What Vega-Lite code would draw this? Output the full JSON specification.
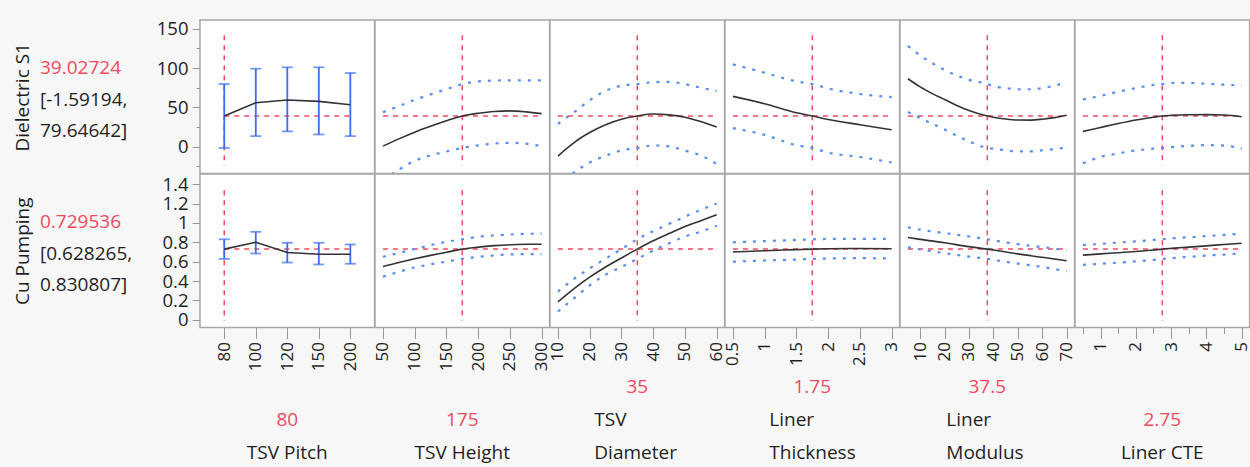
{
"$schema": "https://vega.github.io/schema/vega-lite/v6.json",
"background": "#f7f7f7",
"padding": {"left": 13, "top": 18, "right": 0, "bottom": 0},
"columns": 7,
"spacing": 0,
"bounds": "flush",
"align": "each",
"resolve": {"scale": {"x": "independent", "y": "independent"}, "axis": {"x": "independent", "y": "independent"}},
"config": {
  "font": "Open Sans",
  "view": {"stroke": "#a8a8a8", "strokeWidth": 1.5, "fill": "#ffffff"},
  "axis": {"domain": false, "grid": false, "tickColor": "#9a9a9a", "labelColor": "#1f1f1f", "labelFont": "Open Sans", "titleFont": "Open Sans", "labelOverlap": false, "labelFlush": false},
  "text": {"font": "Open Sans", "fontSize": 19, "baseline": "middle"}
},
"datasets": {
  "r1p1": [
    {"x":"80","pred":39.03,"lo":-1.59,"hi":79.65},
    {"x":"100","pred":55.9,"lo":13.5,"hi":99.1},
    {"x":"120","pred":59.3,"lo":19.5,"hi":100.9},
    {"x":"150","pred":57.6,"lo":15.6,"hi":100.9},
    {"x":"200","pred":53.3,"lo":13.5,"hi":93.6}],
  "r2p1": [
    {"x":"80","pred":0.7295,"lo":0.6283,"hi":0.8308},
    {"x":"100","pred":0.80,"lo":0.684,"hi":0.908},
    {"x":"120","pred":0.695,"lo":0.591,"hi":0.795},
    {"x":"150","pred":0.677,"lo":0.571,"hi":0.795},
    {"x":"200","pred":0.677,"lo":0.578,"hi":0.777}],
  "r1p2": [
    {"x":50,"pred":0.8,"hi":43.9,"lo":-42},
    {"x":75,"pred":10,"hi":51.5,"lo":-29},
    {"x":100,"pred":18.5,"hi":59.5,"lo":-18},
    {"x":125,"pred":26,"hi":66.5,"lo":-11},
    {"x":150,"pred":33,"hi":73,"lo":-6},
    {"x":175,"pred":39.03,"hi":79.65,"lo":-1.59},
    {"x":200,"pred":42.5,"hi":83,"lo":1.8},
    {"x":225,"pred":44.8,"hi":84,"lo":4},
    {"x":250,"pred":45.5,"hi":84.4,"lo":5},
    {"x":275,"pred":44.3,"hi":84.4,"lo":4},
    {"x":300,"pred":42,"hi":84.4,"lo":0.5}],
  "r1p3": [
    {"x":10,"pred":-12,"hi":29,"lo":-52},
    {"x":12.5,"pred":-3,"hi":36.5,"lo":-42},
    {"x":15,"pred":5,"hi":43.5,"lo":-33},
    {"x":17.5,"pred":12,"hi":51.5,"lo":-26},
    {"x":20,"pred":18,"hi":59,"lo":-20},
    {"x":25,"pred":28,"hi":71,"lo":-11.5},
    {"x":30,"pred":35,"hi":77.5,"lo":-4.5},
    {"x":35,"pred":39.03,"hi":79.65,"lo":-1.59},
    {"x":40,"pred":41.5,"hi":82,"lo":1.6},
    {"x":45,"pred":40.5,"hi":82.5,"lo":0.5},
    {"x":50,"pred":37.5,"hi":79.5,"lo":-5},
    {"x":55,"pred":32,"hi":75,"lo":-11},
    {"x":60,"pred":25,"hi":71,"lo":-22}],
  "r1p4": [
    {"x":0.5,"pred":64,"hi":104.7,"lo":23.7},
    {"x":1,"pred":54.6,"hi":94,"lo":15},
    {"x":1.5,"pred":43.1,"hi":83,"lo":2},
    {"x":1.75,"pred":39.03,"hi":79.65,"lo":-1.59},
    {"x":2,"pred":34.7,"hi":74,"lo":-7.5},
    {"x":2.5,"pred":27.9,"hi":67,"lo":-13},
    {"x":3,"pred":21.5,"hi":63,"lo":-20}],
  "r1p5": [
    {"x":5,"pred":86.4,"hi":128,"lo":44},
    {"x":10,"pred":76,"hi":116,"lo":36.5},
    {"x":15,"pred":67.5,"hi":106,"lo":29},
    {"x":20,"pred":60,"hi":97.5,"lo":22},
    {"x":25,"pred":52.5,"hi":90.5,"lo":14},
    {"x":30,"pred":46,"hi":85,"lo":7},
    {"x":37.5,"pred":39.03,"hi":79.65,"lo":-1.59},
    {"x":40,"pred":37.5,"hi":77,"lo":-2.5},
    {"x":45,"pred":35.3,"hi":74.5,"lo":-4.5},
    {"x":50,"pred":34,"hi":73,"lo":-6},
    {"x":55,"pred":33.8,"hi":73,"lo":-6},
    {"x":60,"pred":35,"hi":74.5,"lo":-4.5},
    {"x":65,"pred":37,"hi":77.5,"lo":-3},
    {"x":70,"pred":40,"hi":82,"lo":-1}],
  "r1p6": [
    {"x":0.5,"pred":19.5,"hi":60,"lo":-21},
    {"x":1,"pred":24.5,"hi":64.5,"lo":-13},
    {"x":1.5,"pred":29.5,"hi":70,"lo":-8.5},
    {"x":2,"pred":34,"hi":74.5,"lo":-4.7},
    {"x":2.5,"pred":37.5,"hi":78.5,"lo":-2.5},
    {"x":2.75,"pred":39.03,"hi":79.65,"lo":-1.59},
    {"x":3,"pred":39.8,"hi":81,"lo":-0.5},
    {"x":3.5,"pred":40.6,"hi":81,"lo":1},
    {"x":4,"pred":40.8,"hi":80,"lo":2},
    {"x":4.5,"pred":40.3,"hi":78.8,"lo":1.5},
    {"x":5,"pred":38,"hi":78,"lo":-2.7}],
  "r2p2": [
    {"x":50,"pred":0.55,"hi":0.65,"lo":0.445},
    {"x":75,"pred":0.592,"hi":0.69,"lo":0.495},
    {"x":100,"pred":0.63,"hi":0.73,"lo":0.54},
    {"x":125,"pred":0.665,"hi":0.77,"lo":0.572},
    {"x":150,"pred":0.697,"hi":0.805,"lo":0.6},
    {"x":175,"pred":0.7295,"hi":0.8308,"lo":0.6283},
    {"x":200,"pred":0.75,"hi":0.857,"lo":0.65},
    {"x":225,"pred":0.765,"hi":0.87,"lo":0.664},
    {"x":250,"pred":0.775,"hi":0.88,"lo":0.675},
    {"x":275,"pred":0.779,"hi":0.887,"lo":0.677},
    {"x":300,"pred":0.78,"hi":0.89,"lo":0.677}],
  "r2p3": [
    {"x":10,"pred":0.185,"hi":0.29,"lo":0.085},
    {"x":15,"pred":0.32,"hi":0.42,"lo":0.22},
    {"x":20,"pred":0.44,"hi":0.53,"lo":0.355},
    {"x":25,"pred":0.545,"hi":0.63,"lo":0.465},
    {"x":30,"pred":0.638,"hi":0.73,"lo":0.545},
    {"x":35,"pred":0.7295,"hi":0.8308,"lo":0.6283},
    {"x":40,"pred":0.815,"hi":0.915,"lo":0.715},
    {"x":45,"pred":0.89,"hi":0.99,"lo":0.79},
    {"x":50,"pred":0.962,"hi":1.065,"lo":0.86},
    {"x":55,"pred":1.022,"hi":1.135,"lo":0.91},
    {"x":60,"pred":1.085,"hi":1.2,"lo":0.97}],
  "r2p4": [
    {"x":0.5,"pred":0.70,"hi":0.80,"lo":0.60},
    {"x":1,"pred":0.713,"hi":0.812,"lo":0.612},
    {"x":1.5,"pred":0.724,"hi":0.824,"lo":0.622},
    {"x":1.75,"pred":0.7295,"hi":0.8308,"lo":0.6283},
    {"x":2,"pred":0.733,"hi":0.834,"lo":0.632},
    {"x":2.5,"pred":0.736,"hi":0.836,"lo":0.636},
    {"x":3,"pred":0.733,"hi":0.834,"lo":0.632}],
  "r2p5": [
    {"x":5,"pred":0.85,"hi":0.955,"lo":0.748},
    {"x":10,"pred":0.83,"hi":0.93,"lo":0.727},
    {"x":20,"pred":0.795,"hi":0.895,"lo":0.688},
    {"x":30,"pred":0.755,"hi":0.86,"lo":0.652},
    {"x":37.5,"pred":0.7295,"hi":0.8308,"lo":0.6283},
    {"x":40,"pred":0.72,"hi":0.82,"lo":0.618},
    {"x":50,"pred":0.68,"hi":0.78,"lo":0.58},
    {"x":60,"pred":0.645,"hi":0.75,"lo":0.545},
    {"x":70,"pred":0.61,"hi":0.718,"lo":0.50}],
  "r2p6": [
    {"x":0.5,"pred":0.667,"hi":0.77,"lo":0.567},
    {"x":1,"pred":0.68,"hi":0.783,"lo":0.578},
    {"x":1.5,"pred":0.692,"hi":0.797,"lo":0.59},
    {"x":2,"pred":0.705,"hi":0.81,"lo":0.603},
    {"x":2.5,"pred":0.72,"hi":0.824,"lo":0.618},
    {"x":2.75,"pred":0.7295,"hi":0.8308,"lo":0.6283},
    {"x":3,"pred":0.737,"hi":0.84,"lo":0.636},
    {"x":3.5,"pred":0.75,"hi":0.852,"lo":0.65},
    {"x":4,"pred":0.763,"hi":0.864,"lo":0.662},
    {"x":4.5,"pred":0.777,"hi":0.876,"lo":0.673},
    {"x":5,"pred":0.79,"hi":0.89,"lo":0.686}]
},
"concat": [
  {
    "width": 160, "height": 153.5, "view": {"stroke": null, "fill": null},
    "data": {"values": [{"c":0,"line":0,"t":"39.02724","role":"value"},{"c":0,"line":1,"t":"[-1.59194,","role":"ci"},{"c":0,"line":2,"t":"79.64642]","role":"ci"}]},
    "encoding": {
      "x": {"field":"c","type":"quantitative","scale":{"domain":[0,1]},"axis":null},
      "y": {"field":"line","type":"quantitative","scale":{"domain":[-1.524,3.349],"reverse":true,"nice":false,"zero":false},"axis":{"title":"Dielectric S1","labels":false,"ticks":false,"domain":false,"grid":false,"titleFontSize":19,"titleFontWeight":"normal","titleColor":"#1f1f1f","titlePadding":8}},
      "text": {"field":"t"}
    },
    "layer": [
      {"transform":[{"filter":"datum.role === 'value'"}],"mark":{"type":"text","align":"left","color":"#f2495c","fontSize":19}},
      {"transform":[{"filter":"datum.role === 'ci'"}],"mark":{"type":"text","align":"left","color":"#1f1f1f","fontSize":19}}
    ]
  },
  {
    "width": 174.6, "height": 153.5, "data": {"name": "r1p1"},
    "encoding": {
      "x": {"field":"x","type":"ordinal","scale":{"type":"point","domain":["80","100","120","150","200"],"padding":0.77},"axis":null},
      "y": {"field":"v","type":"quantitative","scale":{"domain":[-34,161],"nice":false,"zero":false},"axis":{"title":null,"values":[-25,0,25,50,75,100,125,150],"labelExpr":"datum.value % 50 === 0 && datum.value >= 0 ? datum.label : ''","tickSize":{"condition":{"test":"datum.value % 50 === 0","value":8},"value":4},"labelFontSize":18.5,"labelPadding":4}}
    },
    "layer": [
      {"data":{"values":[{"x":"80","v":141.6,"v2":-23.8}]},"mark":{"type":"rule","color":"#f2495c","strokeDash":[5,5],"strokeWidth":1.5},"encoding":{"y2":{"field":"v2"}}},
      {"data":{"values":[{"x":"80","x2":"200","v":39.03}]},"mark":{"type":"rule","color":"#f2495c","strokeDash":[5,5],"strokeWidth":1.5},"encoding":{"x2":{"field":"x2"}}},
      {"transform":[{"fold":["lo"],"as":["k","v"]}],"mark":{"type":"rule","color":"#3b6cf0","strokeWidth":1.8},"encoding":{"y2":{"field":"hi"}}},
      {"transform":[{"fold":["lo","hi"],"as":["k","v"]}],"mark":{"type":"tick","color":"#3b6cf0","size":11,"thickness":1.8}},
      {"transform":[{"fold":["pred"],"as":["k","v"]}],"mark":{"type":"line","color":"#333333","strokeWidth":1.6,"clip":true}}
    ]
  },
  {
    "width": 174.6, "height": 153.5, "data": {"name": "r1p2"},
    "encoding": {
      "x": {"field":"x","type":"quantitative","scale":{"domain":[37.5,312.5],"nice":false,"zero":false},"axis":null},
      "y": {"field":"v","type":"quantitative","scale":{"domain":[-34,161],"nice":false,"zero":false},"axis":null}
    },
    "layer": [
      {"data":{"values":[{"x":175,"v":141.6,"v2":-23.8}]},"mark":{"type":"rule","color":"#f2495c","strokeDash":[5,5],"strokeWidth":1.5},"encoding":{"y2":{"field":"v2"}}},
      {"data":{"values":[{"x":50,"x2":300,"v":39.03}]},"mark":{"type":"rule","color":"#f2495c","strokeDash":[5,5],"strokeWidth":1.5},"encoding":{"x2":{"field":"x2"}}},
      {"transform":[{"fold":["hi","lo"],"as":["k","v"]}],"mark":{"type":"line","color":"#5b8def","strokeDash":[3,7],"strokeWidth":2.2,"clip":true,"interpolate":"monotone"},"encoding":{"detail":{"field":"k","type":"nominal"}}},
      {"transform":[{"fold":["pred"],"as":["k","v"]}],"mark":{"type":"line","color":"#333333","strokeWidth":1.6,"clip":true,"interpolate":"monotone"}}
    ]
  },
  {
    "width": 174.6, "height": 153.5, "data": {"name": "r1p3"},
    "encoding": {
      "x": {"field":"x","type":"quantitative","scale":{"domain":[7.5,62.5],"nice":false,"zero":false},"axis":null},
      "y": {"field":"v","type":"quantitative","scale":{"domain":[-34,161],"nice":false,"zero":false},"axis":null}
    },
    "layer": [
      {"data":{"values":[{"x":35,"v":141.6,"v2":-23.8}]},"mark":{"type":"rule","color":"#f2495c","strokeDash":[5,5],"strokeWidth":1.5},"encoding":{"y2":{"field":"v2"}}},
      {"data":{"values":[{"x":10,"x2":60,"v":39.03}]},"mark":{"type":"rule","color":"#f2495c","strokeDash":[5,5],"strokeWidth":1.5},"encoding":{"x2":{"field":"x2"}}},
      {"transform":[{"fold":["hi","lo"],"as":["k","v"]}],"mark":{"type":"line","color":"#5b8def","strokeDash":[3,7],"strokeWidth":2.2,"clip":true,"interpolate":"monotone"},"encoding":{"detail":{"field":"k","type":"nominal"}}},
      {"transform":[{"fold":["pred"],"as":["k","v"]}],"mark":{"type":"line","color":"#333333","strokeWidth":1.6,"clip":true,"interpolate":"monotone"}}
    ]
  },
  {
    "width": 174.6, "height": 153.5, "data": {"name": "r1p4"},
    "encoding": {
      "x": {"field":"x","type":"quantitative","scale":{"domain":[0.375,3.125],"nice":false,"zero":false},"axis":null},
      "y": {"field":"v","type":"quantitative","scale":{"domain":[-34,161],"nice":false,"zero":false},"axis":null}
    },
    "layer": [
      {"data":{"values":[{"x":1.75,"v":141.6,"v2":-23.8}]},"mark":{"type":"rule","color":"#f2495c","strokeDash":[5,5],"strokeWidth":1.5},"encoding":{"y2":{"field":"v2"}}},
      {"data":{"values":[{"x":0.5,"x2":3,"v":39.03}]},"mark":{"type":"rule","color":"#f2495c","strokeDash":[5,5],"strokeWidth":1.5},"encoding":{"x2":{"field":"x2"}}},
      {"transform":[{"fold":["hi","lo"],"as":["k","v"]}],"mark":{"type":"line","color":"#5b8def","strokeDash":[3,7],"strokeWidth":2.2,"clip":true,"interpolate":"monotone"},"encoding":{"detail":{"field":"k","type":"nominal"}}},
      {"transform":[{"fold":["pred"],"as":["k","v"]}],"mark":{"type":"line","color":"#333333","strokeWidth":1.6,"clip":true,"interpolate":"monotone"}}
    ]
  },
  {
    "width": 174.6, "height": 153.5, "data": {"name": "r1p5"},
    "encoding": {
      "x": {"field":"x","type":"quantitative","scale":{"domain":[1.75,73.25],"nice":false,"zero":false},"axis":null},
      "y": {"field":"v","type":"quantitative","scale":{"domain":[-34,161],"nice":false,"zero":false},"axis":null}
    },
    "layer": [
      {"data":{"values":[{"x":37.5,"v":141.6,"v2":-23.8}]},"mark":{"type":"rule","color":"#f2495c","strokeDash":[5,5],"strokeWidth":1.5},"encoding":{"y2":{"field":"v2"}}},
      {"data":{"values":[{"x":5,"x2":70,"v":39.03}]},"mark":{"type":"rule","color":"#f2495c","strokeDash":[5,5],"strokeWidth":1.5},"encoding":{"x2":{"field":"x2"}}},
      {"transform":[{"fold":["hi","lo"],"as":["k","v"]}],"mark":{"type":"line","color":"#5b8def","strokeDash":[3,7],"strokeWidth":2.2,"clip":true,"interpolate":"monotone"},"encoding":{"detail":{"field":"k","type":"nominal"}}},
      {"transform":[{"fold":["pred"],"as":["k","v"]}],"mark":{"type":"line","color":"#333333","strokeWidth":1.6,"clip":true,"interpolate":"monotone"}}
    ]
  },
  {
    "width": 174.6, "height": 153.5, "data": {"name": "r1p6"},
    "encoding": {
      "x": {"field":"x","type":"quantitative","scale":{"domain":[0.275,5.225],"nice":false,"zero":false},"axis":null},
      "y": {"field":"v","type":"quantitative","scale":{"domain":[-34,161],"nice":false,"zero":false},"axis":null}
    },
    "layer": [
      {"data":{"values":[{"x":2.75,"v":141.6,"v2":-23.8}]},"mark":{"type":"rule","color":"#f2495c","strokeDash":[5,5],"strokeWidth":1.5},"encoding":{"y2":{"field":"v2"}}},
      {"data":{"values":[{"x":0.5,"x2":5,"v":39.03}]},"mark":{"type":"rule","color":"#f2495c","strokeDash":[5,5],"strokeWidth":1.5},"encoding":{"x2":{"field":"x2"}}},
      {"transform":[{"fold":["hi","lo"],"as":["k","v"]}],"mark":{"type":"line","color":"#5b8def","strokeDash":[3,7],"strokeWidth":2.2,"clip":true,"interpolate":"monotone"},"encoding":{"detail":{"field":"k","type":"nominal"}}},
      {"transform":[{"fold":["pred"],"as":["k","v"]}],"mark":{"type":"line","color":"#333333","strokeWidth":1.6,"clip":true,"interpolate":"monotone"}}
    ]
  },
  {
    "width": 160, "height": 153.5, "view": {"stroke": null, "fill": null},
    "data": {"values": [{"c":0,"line":0,"t":"0.729536","role":"value"},{"c":0,"line":1,"t":"[0.628265,","role":"ci"},{"c":0,"line":2,"t":"0.830807]","role":"ci"}]},
    "encoding": {
      "x": {"field":"c","type":"quantitative","scale":{"domain":[0,1]},"axis":null},
      "y": {"field":"line","type":"quantitative","scale":{"domain":[-1.524,3.349],"reverse":true,"nice":false,"zero":false},"axis":{"title":"Cu Pumping","labels":false,"ticks":false,"domain":false,"grid":false,"titleFontSize":19,"titleFontWeight":"normal","titleColor":"#1f1f1f","titlePadding":8}},
      "text": {"field":"t"}
    },
    "layer": [
      {"transform":[{"filter":"datum.role === 'value'"}],"mark":{"type":"text","align":"left","color":"#f2495c","fontSize":19}},
      {"transform":[{"filter":"datum.role === 'ci'"}],"mark":{"type":"text","align":"left","color":"#1f1f1f","fontSize":19}}
    ]
  },
  {
    "width": 174.6, "height": 153.5, "data": {"name": "r2p1"},
    "encoding": {
      "x": {"field":"x","type":"ordinal","scale":{"type":"point","domain":["80","100","120","150","200"],"padding":0.77},"axis":{"title":null,"labelAngle":270,"labelFontSize":17,"tickSize":11,"labelPadding":3}},
      "y": {"field":"v","type":"quantitative","scale":{"domain":[-0.08,1.505],"nice":false,"zero":false},"axis":{"title":null,"values":[0,0.2,0.4,0.6,0.8,1,1.2,1.4],"format":"~g","tickSize":8,"labelFontSize":18.5,"labelPadding":4}}
    },
    "layer": [
      {"data":{"values":[{"x":"80","v":1.337,"v2":-0.01}]},"mark":{"type":"rule","color":"#f2495c","strokeDash":[5,5],"strokeWidth":1.5},"encoding":{"y2":{"field":"v2"}}},
      {"data":{"values":[{"x":"80","x2":"200","v":0.7295}]},"mark":{"type":"rule","color":"#f2495c","strokeDash":[5,5],"strokeWidth":1.5},"encoding":{"x2":{"field":"x2"}}},
      {"transform":[{"fold":["lo"],"as":["k","v"]}],"mark":{"type":"rule","color":"#3b6cf0","strokeWidth":1.8},"encoding":{"y2":{"field":"hi"}}},
      {"transform":[{"fold":["lo","hi"],"as":["k","v"]}],"mark":{"type":"tick","color":"#3b6cf0","size":11,"thickness":1.8}},
      {"transform":[{"fold":["pred"],"as":["k","v"]}],"mark":{"type":"line","color":"#333333","strokeWidth":1.6,"clip":true}}
    ]
  },
  {
    "width": 174.6, "height": 153.5, "data": {"name": "r2p2"},
    "encoding": {
      "x": {"field":"x","type":"quantitative","scale":{"domain":[37.5,312.5],"nice":false,"zero":false},"axis":{"title":null,"values":[50,100,150,200,250,300],"labelAngle":270,"labelFontSize":17,"tickSize":11,"labelPadding":3}},
      "y": {"field":"v","type":"quantitative","scale":{"domain":[-0.08,1.505],"nice":false,"zero":false},"axis":null}
    },
    "layer": [
      {"data":{"values":[{"x":175,"v":1.337,"v2":-0.01}]},"mark":{"type":"rule","color":"#f2495c","strokeDash":[5,5],"strokeWidth":1.5},"encoding":{"y2":{"field":"v2"}}},
      {"data":{"values":[{"x":50,"x2":300,"v":0.7295}]},"mark":{"type":"rule","color":"#f2495c","strokeDash":[5,5],"strokeWidth":1.5},"encoding":{"x2":{"field":"x2"}}},
      {"transform":[{"fold":["hi","lo"],"as":["k","v"]}],"mark":{"type":"line","color":"#5b8def","strokeDash":[3,7],"strokeWidth":2.2,"clip":true,"interpolate":"monotone"},"encoding":{"detail":{"field":"k","type":"nominal"}}},
      {"transform":[{"fold":["pred"],"as":["k","v"]}],"mark":{"type":"line","color":"#333333","strokeWidth":1.6,"clip":true,"interpolate":"monotone"}}
    ]
  },
  {
    "width": 174.6, "height": 153.5, "data": {"name": "r2p3"},
    "encoding": {
      "x": {"field":"x","type":"quantitative","scale":{"domain":[7.5,62.5],"nice":false,"zero":false},"axis":{"title":null,"values":[10,20,30,40,50,60],"labelAngle":270,"labelFontSize":17,"tickSize":11,"labelPadding":3}},
      "y": {"field":"v","type":"quantitative","scale":{"domain":[-0.08,1.505],"nice":false,"zero":false},"axis":null}
    },
    "layer": [
      {"data":{"values":[{"x":35,"v":1.337,"v2":-0.01}]},"mark":{"type":"rule","color":"#f2495c","strokeDash":[5,5],"strokeWidth":1.5},"encoding":{"y2":{"field":"v2"}}},
      {"data":{"values":[{"x":10,"x2":60,"v":0.7295}]},"mark":{"type":"rule","color":"#f2495c","strokeDash":[5,5],"strokeWidth":1.5},"encoding":{"x2":{"field":"x2"}}},
      {"transform":[{"fold":["hi","lo"],"as":["k","v"]}],"mark":{"type":"line","color":"#5b8def","strokeDash":[3,7],"strokeWidth":2.2,"clip":true,"interpolate":"monotone"},"encoding":{"detail":{"field":"k","type":"nominal"}}},
      {"transform":[{"fold":["pred"],"as":["k","v"]}],"mark":{"type":"line","color":"#333333","strokeWidth":1.6,"clip":true,"interpolate":"monotone"}}
    ]
  },
  {
    "width": 174.6, "height": 153.5, "data": {"name": "r2p4"},
    "encoding": {
      "x": {"field":"x","type":"quantitative","scale":{"domain":[0.375,3.125],"nice":false,"zero":false},"axis":{"title":null,"values":[0.5,1,1.5,2,2.5,3],"format":"~g","labelAngle":270,"labelFontSize":17,"tickSize":11,"labelPadding":3}},
      "y": {"field":"v","type":"quantitative","scale":{"domain":[-0.08,1.505],"nice":false,"zero":false},"axis":null}
    },
    "layer": [
      {"data":{"values":[{"x":1.75,"v":1.337,"v2":-0.01}]},"mark":{"type":"rule","color":"#f2495c","strokeDash":[5,5],"strokeWidth":1.5},"encoding":{"y2":{"field":"v2"}}},
      {"data":{"values":[{"x":0.5,"x2":3,"v":0.7295}]},"mark":{"type":"rule","color":"#f2495c","strokeDash":[5,5],"strokeWidth":1.5},"encoding":{"x2":{"field":"x2"}}},
      {"transform":[{"fold":["hi","lo"],"as":["k","v"]}],"mark":{"type":"line","color":"#5b8def","strokeDash":[3,7],"strokeWidth":2.2,"clip":true,"interpolate":"monotone"},"encoding":{"detail":{"field":"k","type":"nominal"}}},
      {"transform":[{"fold":["pred"],"as":["k","v"]}],"mark":{"type":"line","color":"#333333","strokeWidth":1.6,"clip":true,"interpolate":"monotone"}}
    ]
  },
  {
    "width": 174.6, "height": 153.5, "data": {"name": "r2p5"},
    "encoding": {
      "x": {"field":"x","type":"quantitative","scale":{"domain":[1.75,73.25],"nice":false,"zero":false},"axis":{"title":null,"values":[10,20,30,40,50,60,70],"labelAngle":270,"labelFontSize":17,"tickSize":11,"labelPadding":3}},
      "y": {"field":"v","type":"quantitative","scale":{"domain":[-0.08,1.505],"nice":false,"zero":false},"axis":null}
    },
    "layer": [
      {"data":{"values":[{"x":37.5,"v":1.337,"v2":-0.01}]},"mark":{"type":"rule","color":"#f2495c","strokeDash":[5,5],"strokeWidth":1.5},"encoding":{"y2":{"field":"v2"}}},
      {"data":{"values":[{"x":5,"x2":70,"v":0.7295}]},"mark":{"type":"rule","color":"#f2495c","strokeDash":[5,5],"strokeWidth":1.5},"encoding":{"x2":{"field":"x2"}}},
      {"transform":[{"fold":["hi","lo"],"as":["k","v"]}],"mark":{"type":"line","color":"#5b8def","strokeDash":[3,7],"strokeWidth":2.2,"clip":true,"interpolate":"monotone"},"encoding":{"detail":{"field":"k","type":"nominal"}}},
      {"transform":[{"fold":["pred"],"as":["k","v"]}],"mark":{"type":"line","color":"#333333","strokeWidth":1.6,"clip":true,"interpolate":"monotone"}}
    ]
  },
  {
    "width": 174.6, "height": 153.5, "data": {"name": "r2p6"},
    "encoding": {
      "x": {"field":"x","type":"quantitative","scale":{"domain":[0.275,5.225],"nice":false,"zero":false},"axis":{"title":null,"values":[0.5,1,1.5,2,2.5,3,3.5,4,4.5,5],"format":"~g","labelExpr":"datum.value % 1 === 0 ? datum.label : ''","labelAngle":270,"labelFontSize":17,"tickSize":{"condition":{"test":"datum.value % 1 === 0","value":11},"value":6},"labelPadding":3}},
      "y": {"field":"v","type":"quantitative","scale":{"domain":[-0.08,1.505],"nice":false,"zero":false},"axis":null}
    },
    "layer": [
      {"data":{"values":[{"x":2.75,"v":1.337,"v2":-0.01}]},"mark":{"type":"rule","color":"#f2495c","strokeDash":[5,5],"strokeWidth":1.5},"encoding":{"y2":{"field":"v2"}}},
      {"data":{"values":[{"x":0.5,"x2":5,"v":0.7295}]},"mark":{"type":"rule","color":"#f2495c","strokeDash":[5,5],"strokeWidth":1.5},"encoding":{"x2":{"field":"x2"}}},
      {"transform":[{"fold":["hi","lo"],"as":["k","v"]}],"mark":{"type":"line","color":"#5b8def","strokeDash":[3,7],"strokeWidth":2.2,"clip":true,"interpolate":"monotone"},"encoding":{"detail":{"field":"k","type":"nominal"}}},
      {"transform":[{"fold":["pred"],"as":["k","v"]}],"mark":{"type":"line","color":"#333333","strokeWidth":1.6,"clip":true,"interpolate":"monotone"}}
    ]
  },
  {
    "width": 160, "height": 142, "view": {"stroke": null, "fill": null},
    "data": {"values": [{"t": ""}]},
    "mark": {"type": "text"},
    "encoding": {"text": {"field": "t"}}
  },
  {
    "width": 174.6, "height": 142, "view": {"stroke": null, "fill": null},
    "data": {"values": [{"line":1,"t":"80","role":"value"},{"line":2,"t":"TSV Pitch","role":"name"}]},
    "encoding": {"y": {"field":"line","type":"quantitative","scale":{"domain":[-1.788,2.515],"reverse":true,"nice":false,"zero":false},"axis":null}, "text": {"field":"t"}},
    "layer": [
      {"transform":[{"filter":"datum.role === 'value'"}],"mark":{"type":"text","color":"#f2495c","fontSize":19}},
      {"transform":[{"filter":"datum.role === 'name'"}],"mark":{"type":"text","color":"#1f1f1f","fontSize":19}}
    ]
  },
  {
    "width": 174.6, "height": 142, "view": {"stroke": null, "fill": null},
    "data": {"values": [{"line":1,"t":"175","role":"value"},{"line":2,"t":"TSV Height","role":"name"}]},
    "encoding": {"y": {"field":"line","type":"quantitative","scale":{"domain":[-1.788,2.515],"reverse":true,"nice":false,"zero":false},"axis":null}, "text": {"field":"t"}},
    "layer": [
      {"transform":[{"filter":"datum.role === 'value'"}],"mark":{"type":"text","color":"#f2495c","fontSize":19}},
      {"transform":[{"filter":"datum.role === 'name'"}],"mark":{"type":"text","color":"#1f1f1f","fontSize":19}}
    ]
  },
  {
    "width": 174.6, "height": 142, "view": {"stroke": null, "fill": null},
    "data": {"values": [{"line":0,"t":"35","role":"value"},{"line":1,"t":"TSV","role":"name2"},{"line":2,"t":"Diameter","role":"name2"}]},
    "encoding": {"y": {"field":"line","type":"quantitative","scale":{"domain":[-1.788,2.515],"reverse":true,"nice":false,"zero":false},"axis":null}, "text": {"field":"t"}},
    "layer": [
      {"transform":[{"filter":"datum.role === 'value'"}],"mark":{"type":"text","color":"#f2495c","fontSize":19}},
      {"transform":[{"filter":"datum.role === 'name2'"}],"mark":{"type":"text","color":"#1f1f1f","fontSize":19,"align":"left","dx":-43}}
    ]
  },
  {
    "width": 174.6, "height": 142, "view": {"stroke": null, "fill": null},
    "data": {"values": [{"line":0,"t":"1.75","role":"value"},{"line":1,"t":"Liner","role":"name2"},{"line":2,"t":"Thickness","role":"name2"}]},
    "encoding": {"y": {"field":"line","type":"quantitative","scale":{"domain":[-1.788,2.515],"reverse":true,"nice":false,"zero":false},"axis":null}, "text": {"field":"t"}},
    "layer": [
      {"transform":[{"filter":"datum.role === 'value'"}],"mark":{"type":"text","color":"#f2495c","fontSize":19}},
      {"transform":[{"filter":"datum.role === 'name2'"}],"mark":{"type":"text","color":"#1f1f1f","fontSize":19,"align":"left","dx":-43}}
    ]
  },
  {
    "width": 174.6, "height": 142, "view": {"stroke": null, "fill": null},
    "data": {"values": [{"line":0,"t":"37.5","role":"value"},{"line":1,"t":"Liner","role":"name2"},{"line":2,"t":"Modulus","role":"name2"}]},
    "encoding": {"y": {"field":"line","type":"quantitative","scale":{"domain":[-1.788,2.515],"reverse":true,"nice":false,"zero":false},"axis":null}, "text": {"field":"t"}},
    "layer": [
      {"transform":[{"filter":"datum.role === 'value'"}],"mark":{"type":"text","color":"#f2495c","fontSize":19}},
      {"transform":[{"filter":"datum.role === 'name2'"}],"mark":{"type":"text","color":"#1f1f1f","fontSize":19,"align":"left","dx":-41}}
    ]
  },
  {
    "width": 174.6, "height": 142, "view": {"stroke": null, "fill": null},
    "data": {"values": [{"line":1,"t":"2.75","role":"value"},{"line":2,"t":"Liner CTE","role":"name"}]},
    "encoding": {"y": {"field":"line","type":"quantitative","scale":{"domain":[-1.788,2.515],"reverse":true,"nice":false,"zero":false},"axis":null}, "text": {"field":"t"}},
    "layer": [
      {"transform":[{"filter":"datum.role === 'value'"}],"mark":{"type":"text","color":"#f2495c","fontSize":19}},
      {"transform":[{"filter":"datum.role === 'name'"}],"mark":{"type":"text","color":"#1f1f1f","fontSize":19}}
    ]
  }
]
}
